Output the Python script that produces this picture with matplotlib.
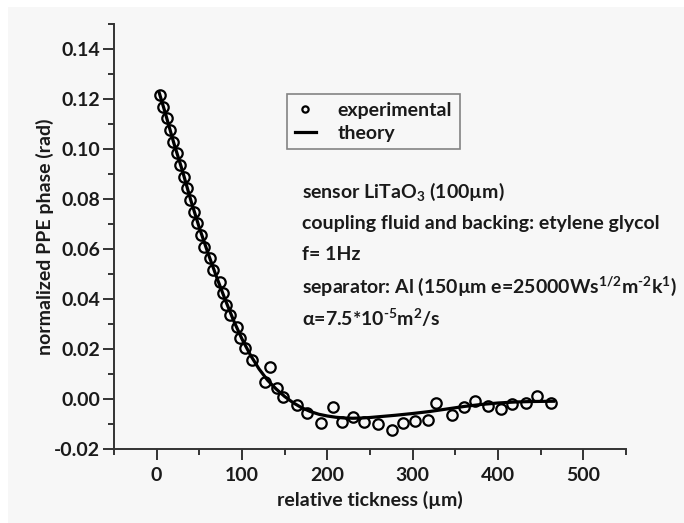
import matplotlib
matplotlib.use("Agg")
import matplotlib.pyplot as plt
from matplotlib.patches import Rectangle
from matplotlib.ticker import MultipleLocator, FormatStrFormatter

plt.rcParams['font.family'] = ['Lato', 'DejaVu Sans']
plt.rcParams['font.weight'] = 'bold'
plt.rcParams['mathtext.fontset'] = 'custom'
plt.rcParams['mathtext.rm'] = 'Lato:bold'
plt.rcParams['mathtext.it'] = 'Lato:bold'
plt.rcParams['mathtext.bf'] = 'Lato:bold'

# experimental points
exp_x = [3.9, 7.8, 11.7, 15.6, 19.5, 23.4, 27.3, 32.0, 36.0, 39.5, 43.5, 47.5, 51.9, 56.0,
         62.5, 66.4, 74.2, 78.1, 81.0, 86.0, 94.5, 97.7, 103.5, 111.4, 127.0, 132.8, 140.7,
         148.4, 164.0, 175.8, 193.0, 207.0, 217.0, 230.0, 243.0, 259.0, 276.0, 289.0, 303.0,
         318.0, 327.0, 346.0, 360.0, 373.0, 388.0, 404.0, 416.0, 433.0, 446.0, 462.0]
exp_y = [0.1217, 0.1170, 0.1124, 0.1077, 0.1030, 0.0984, 0.0937, 0.0890, 0.0844, 0.0797,
         0.0750, 0.0704, 0.0657, 0.0610, 0.0564, 0.0517, 0.0470, 0.0424, 0.0377, 0.0337,
         0.0290, 0.0244, 0.0204, 0.0157, 0.0070, 0.0130, 0.0044, 0.0010, -0.0023, -0.0056,
         -0.0095, -0.0032, -0.0090, -0.0070, -0.0090, -0.0099, -0.0123, -0.0096, -0.0087,
         -0.0083, -0.0015, -0.0063, -0.0030, -0.0007, -0.0027, -0.0039, -0.0020, -0.0014,
         0.0013, -0.0014]

# theory curve
th_x = [3, 10, 20, 30, 40, 50, 60, 70, 80, 90, 100, 110, 120, 130, 140, 150, 160, 170,
        180, 190, 200, 210, 220, 230, 240, 250, 260, 280, 300, 320, 340, 360, 380, 400,
        420, 440, 465]
th_y = [0.1225, 0.1145, 0.1025, 0.0915, 0.0795, 0.0685, 0.0585, 0.0490, 0.0400, 0.0315,
        0.0240, 0.0175, 0.0120, 0.0075, 0.0040, 0.0010, -0.0015, -0.0035, -0.0050, -0.0061,
        -0.0068, -0.0073, -0.0076, -0.0077, -0.0076, -0.0074, -0.0071, -0.0065, -0.0058,
        -0.0050, -0.0040, -0.0030, -0.0022, -0.0016, -0.0012, -0.0010, -0.0009]

annotations = [
    r"sensor LiTaO$_3$ (100µm)",
    "coupling fluid and backing: etylene glycol",
    "f= 1Hz",
    r"separator: Al (150µm e=25000Ws$^{1/2}$m$^{\text{-2}}$k$^{1}$)",
    r"α=7.5*10$^{\text{-5}}$m$^{2}$/s",
]

FS = 14
fig = plt.figure(figsize=(6.84, 5.23), dpi=100, facecolor='white')
fig.patches.append(Rectangle((8/684, 0), 1, 1 - 7/523, transform=fig.transFigure,
                             facecolor='#f7f7f7', edgecolor='none', zorder=-10))
ax = fig.add_axes([114/684, 1 - 449/523, 512/684, 425/523])
ax.set_facecolor('none')

ink = '#1a1a1a'
ax.plot(th_x, th_y, color='black', lw=2.3, label='theory', zorder=2)
ax.plot(exp_x, exp_y, 'o', mfc='none', mec='black', ms=7.5, mew=1.6,
        label='experimental', zorder=3)

ax.set_xlim(-50, 550)
ax.set_ylim(-0.02, 0.15)
ax.xaxis.set_major_locator(MultipleLocator(100))
ax.xaxis.set_minor_locator(MultipleLocator(50))
ax.yaxis.set_minor_locator(MultipleLocator(0.01))
ax.yaxis.set_major_formatter(FormatStrFormatter('%.2f'))
ax.set_yticks([-0.02, 0.0, 0.02, 0.04, 0.06, 0.08, 0.10, 0.12, 0.14])

for s in ['top', 'right']:
    ax.spines[s].set_visible(False)
for s in ['left', 'bottom']:
    ax.spines[s].set_linewidth(1.4)
    ax.spines[s].set_color('#333333')
ax.tick_params(which='major', direction='out', length=8, width=1.4, color='#333333',
               labelsize=FS, labelcolor=ink)
ax.tick_params(axis='x', which='major', pad=5)
ax.tick_params(axis='y', which='major', pad=2)
ax.tick_params(which='minor', direction='out', length=4.5, width=1.4, color='#333333')
for lbl in ax.get_xticklabels() + ax.get_yticklabels():
    lbl.set_fontweight('bold')

ax.set_xlabel('relative tickness (µm)', fontsize=FS, fontweight='bold', color=ink, labelpad=5)
ax.set_ylabel('normalized PPE phase (rad)', fontsize=FS, fontweight='bold', color=ink, labelpad=0)

handles, labels = ax.get_legend_handles_labels()
leg = ax.legend(handles[::-1], labels[::-1], loc='upper left',
                bbox_to_anchor=((287 - 114) / 512, (449 - 94) / 425),
                frameon=True, fancybox=False, edgecolor='#666666', facecolor='none',
                fontsize=FS, handlelength=1.1, markerscale=0.6, borderpad=0.4,
                labelspacing=0.3, handletextpad=1.1, borderaxespad=0)
leg.get_frame().set_linewidth(1.2)
for t in leg.get_texts():
    t.set_fontweight('bold')
    t.set_color(ink)

y0 = 191.7
for i, s in enumerate(annotations):
    fig.text(302/684, 1 - (y0 + i * 31.6) / 523, s, fontsize=FS, fontweight='bold',
             color=ink, ha='left', va='center')

fig.savefig('out.png', dpi=100, facecolor=fig.get_facecolor())
